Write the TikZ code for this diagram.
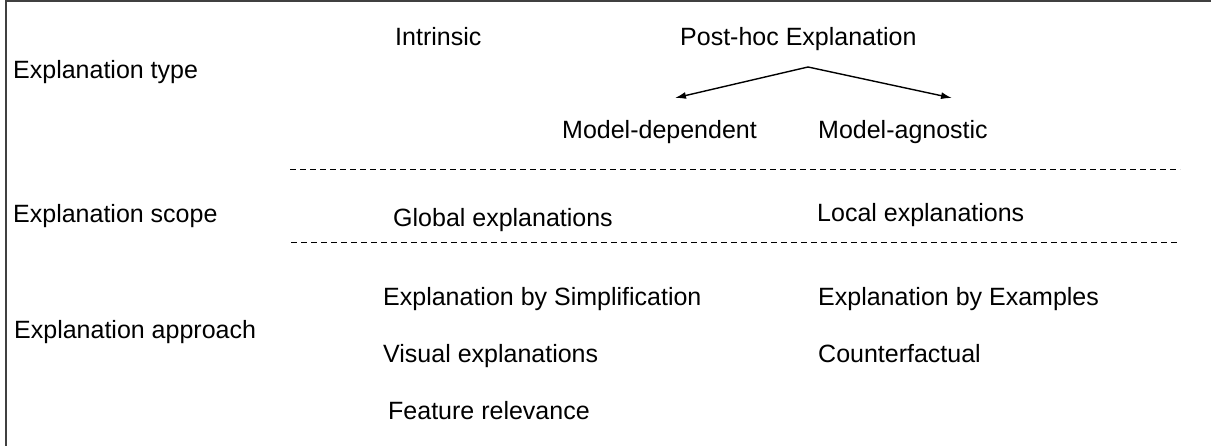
\documentclass[tikz,border=0pt]{standalone}
\usepackage{fontspec}
\setmainfont{Liberation Sans}
\usetikzlibrary{arrows.meta}
\begin{document}
\begin{tikzpicture}[x=1pt,y=-1pt,
  lbl/.style={anchor=base west,inner sep=0pt,font=\fontsize{25}{29}\selectfont},
  frame/.style={line width=1.6pt,draw=black!75},
  sep/.style={line width=1pt,dash pattern=on 6pt off 4pt},
  arr/.style={line width=1.4pt,-{Latex[length=11pt,width=7pt]}}]
\useasboundingbox (0,0) rectangle (1211,446);
\draw[frame] (6,446) -- (6,1) -- (1211,1);
% row labels
\node[lbl] (ltype)  at (13,79)  {Explanation type};
\node[lbl] (lscope) at (13,223) {Explanation scope};
\node[lbl] (lappr)  at (14,339) {Explanation approach};
% type
\node[lbl] (intr)   at (395,46)  {Intrinsic};
\node[lbl] (post)   at (680,46)  {Post-hoc Explanation};
\node[lbl] (mdep)   at (562,139) {Model-dependent};
\node[lbl] (magn)   at (818,139) {Model-agnostic};
\coordinate (apex) at (808,67);
\coordinate (tipl) at (675,98);
\coordinate (tipr) at (952,98);
\draw[arr] (apex) -- (tipl);
\draw[arr] (apex) -- (tipr);
% separators
\coordinate (s1a) at (290,170);
\coordinate (s1b) at (1180,170);
\coordinate (s2a) at (291,243);
\coordinate (s2b) at (1180,243);
\draw[sep] (s1a) -- (s1b);
\draw[sep] (s2a) -- (s2b);
% scope
\node[lbl] (glob)  at (393,227) {Global explanations};
\node[lbl] (loc)   at (817,222) {Local explanations};
% approach
\node[lbl] (simp)  at (383,306) {Explanation by Simplification};
\node[lbl] (exam)  at (818,306) {Explanation by Examples};
\node[lbl] (vis)   at (383,363) {Visual explanations};
\node[lbl] (cf)    at (818,363) {Counterfactual};
\node[lbl] (feat)  at (388,420) {Feature relevance};
\end{tikzpicture}
\end{document}
